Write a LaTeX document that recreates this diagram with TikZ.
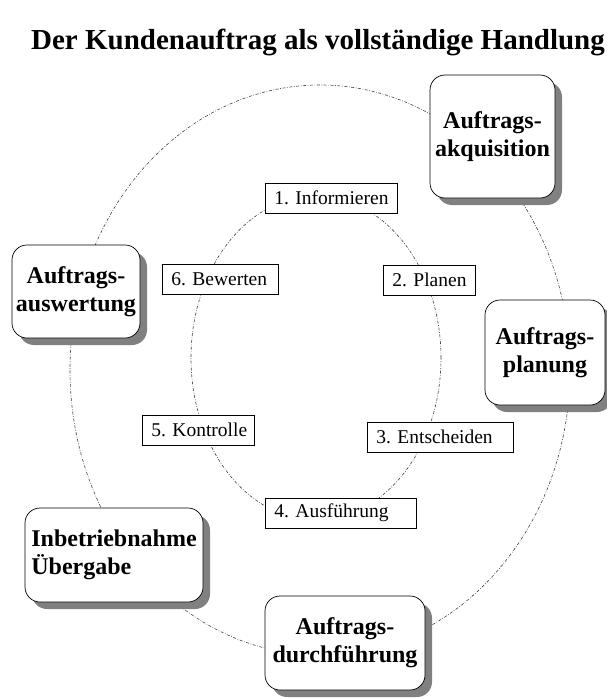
\documentclass[tikz,border=0pt]{standalone}
\usepackage{fontspec}
\setmainfont{Liberation Serif}
\usetikzlibrary{shadows}
\tikzset{
  ring/.style={line width=0.6pt, black!75, dash pattern=on 3pt off 1.6pt on 0.7pt off 1.6pt},
  bigbox/.style={draw=black, line width=0.7pt, fill=white, rounded corners=15pt,
    drop shadow={shadow xshift=7pt, shadow yshift=-7pt, fill=black!50, opacity=1},
    font=\bfseries\fontsize{24}{28}\selectfont, align=center, inner sep=0pt},
  stepbox/.style={draw=black, line width=0.6pt, fill=white, inner xsep=9pt, inner ysep=0pt,
    minimum height=30pt, font=\frenchspacing\fontsize{19.5}{21}\selectfont, align=left, anchor=west},
  titletext/.style={font=\bfseries\fontsize{29}{32}\selectfont}
}
\begin{document}
\begin{tikzpicture}[x=1pt,y=-1pt]
\useasboundingbox (0,0) rectangle (606,698);
\node[titletext] (title) at (318,42) {Der Kundenauftrag als vollständige Handlung};
% rings
\draw[ring] (320,370) ellipse [x radius=250pt, y radius=285pt];
\draw[ring] (316,358) ellipse [x radius=125pt, y radius=162pt];
% big boxes
\node[bigbox, minimum width=125pt, minimum height=123pt] (akq) at (492.5,136.5) {Auftrags-\\akquisition};
\node[bigbox, minimum width=120pt, minimum height=105pt] (plan) at (545,352.5) {Auftrags-\\planung};
\node[bigbox, minimum width=128pt, minimum height=93pt] (ausw) at (76,291.5) {Auftrags-\\auswertung};
\node[bigbox, minimum width=178pt, minimum height=94pt, align=left] (inb) at (114,555) {Inbetriebnahme\\Übergabe};
\node[bigbox, minimum width=160pt, minimum height=94pt] (durch) at (345,643) {Auftrags-\\durchführung};
% step boxes (box width minus 18pt)
\node[stepbox, text width=114pt] (s1) at (265,198) {\mbox{1. Informieren}};
\node[stepbox, text width=74pt] (s2) at (383,280) {\mbox{2. Planen}};
\node[stepbox, text width=128pt] (s3) at (367,437) {\mbox{3. Entscheiden}};
\node[stepbox, text width=133pt] (s4) at (265,513) {\mbox{4. Ausführung}};
\node[stepbox, text width=94pt] (s5) at (142,430) {\mbox{5. Kontrolle}};
\node[stepbox, text width=98pt] (s6) at (162,279) {\mbox{6. Bewerten}};
\end{tikzpicture}
\end{document}
